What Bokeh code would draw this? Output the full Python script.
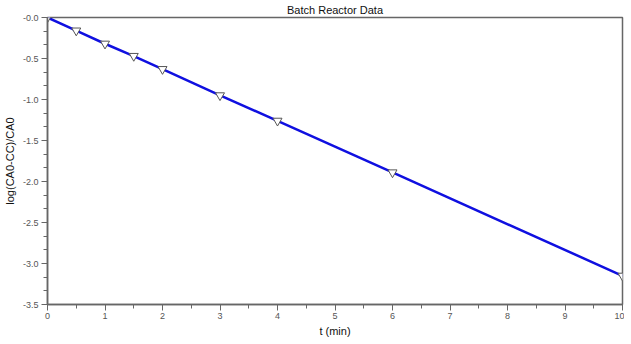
from bokeh.plotting import figure
from bokeh.embed import file_html
from bokeh.resources import INLINE
from bokeh.models import Range1d, FixedTicker, NumeralTickFormatter

t_min = [0, 0.5, 1, 1.5, 2, 3, 4, 6, 10]
log_ratio = [0.0, -0.16, -0.32, -0.47, -0.63, -0.95, -1.26, -1.89, -3.15]
x_ticks = [0, 1, 2, 3, 4, 5, 6, 7, 8, 9, 10]
y_ticks = [0, -0.5, -1.0, -1.5, -2.0, -2.5, -3.0, -3.5]

p = figure(frame_width=575, frame_height=287, output_backend="svg", toolbar_location=None,
           x_range=Range1d(0, 10), y_range=Range1d(-3.5, 0),
           title="Batch Reactor Data",
           min_border_left=41, min_border_right=2, min_border_top=4, min_border_bottom=0)

p.title.align = "center"
p.title.text_font = "Liberation Sans"
p.title.text_font_size = "11px"
p.title.text_font_style = "normal"
p.title.text_color = "#111111"
p.title.offset = 0
p.title.standoff = 3

p.xgrid.visible = False
p.ygrid.visible = False
p.outline_line_color = "#666666"
p.outline_line_width = 1.5
p.background_fill_color = "white"
p.border_fill_color = "white"

p.line(t_min, log_ratio, line_color="#1010e0", line_width=2.5)
p.scatter(t_min, log_ratio, marker="inverted_triangle", size=9,
          fill_color="white", line_color="#555555", line_width=1)

for ax in (p.xaxis[0], p.yaxis[0]):
    ax.axis_line_color = "#666666"
    ax.axis_line_width = 1.5
    ax.major_tick_line_color = "#666666"
    ax.minor_tick_line_color = "#666666"
    ax.major_tick_in = 0
    ax.major_tick_out = 6
    ax.minor_tick_in = 0
    ax.minor_tick_out = 4
    ax.major_label_text_font = "Liberation Sans"
    ax.major_label_text_font_size = "9px"
    ax.major_label_text_color = "#555555"
    ax.axis_label_text_font = "Liberation Sans"
    ax.axis_label_text_font_size = "11px"
    ax.axis_label_text_font_style = "normal"
    ax.axis_label_text_color = "#111111"
    ax.major_label_standoff = 3
    ax.axis_label_standoff = 4

p.xaxis.major_label_standoff = 2
p.xaxis.axis_label_standoff = 3
p.xaxis.ticker = FixedTicker(ticks=x_ticks, minor_ticks=[i * 0.5 for i in range(21)])
p.yaxis.ticker = FixedTicker(ticks=y_ticks, minor_ticks=[-i / 6 for i in range(22)])
p.yaxis.formatter = NumeralTickFormatter(format="0.0")
p.yaxis.major_label_overrides = {0: "-0.0"}
p.xaxis.axis_label = "t (min)"
p.yaxis.axis_label = "log(CA0-CC)/CA0"

open("out.html", "w").write(file_html(p, INLINE))
